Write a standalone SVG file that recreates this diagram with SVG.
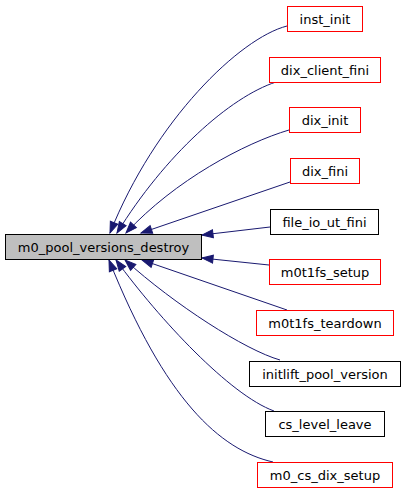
<svg xmlns="http://www.w3.org/2000/svg" width="405" height="493" viewBox="0 0 405 493">
<style>
.n rect{fill:#fff;stroke-width:1}
.red rect{stroke:#ff0000}
.blk rect{stroke:#000}
.main rect{fill:#bfbfbf;stroke:#000}
text{font-family:"DejaVu Sans","Liberation Sans",sans-serif;font-size:13px;fill:#000;text-anchor:middle}
.e path{fill:none;stroke:#191970;stroke-width:1;marker-end:url(#ah)}
</style>
<defs>
<marker id="ah" markerWidth="11" markerHeight="8" refX="11" refY="4" orient="auto" markerUnits="userSpaceOnUse" overflow="visible">
<path d="M0,0 L11,4 L0,8 z" fill="#191970" stroke="#191970" stroke-width="1"/>
</marker>
</defs>
<rect width="405" height="493" fill="#fff"/>
<g class="e" id="edges">
<path d="M287,26 C240,38 155,120 110,233"/>
<path d="M276,82 C230,97 165,155 117,233"/>
<path d="M289,130 C245,143 175,180 126,233"/>
<path d="M290,182 L141,233"/>
<path d="M270,227 L202,235"/>
<path d="M269,265 L202,258"/>
<path d="M287,310 L142,260"/>
<path d="M280,360 C245,350 175,305 125,260"/>
<path d="M274,411 C230,395 160,320 116,260"/>
<path d="M273,462 C220,450 165,400 109,260"/>
</g>
<g id="main" class="n main"><rect x="5.5" y="234.5" width="196" height="25"/><text x="103.5" y="251.5">m0_pool_versions_destroy</text></g>
<g id="inst_init" class="n red"><rect x="287.5" y="6.5" width="75" height="25"/><text x="325" y="23.5">inst_init</text></g>
<g id="dix_client_fini" class="n red"><rect x="269.5" y="57.5" width="111" height="25"/><text x="325" y="74.5">dix_client_fini</text></g>
<g id="dix_init" class="n red"><rect x="289.5" y="107.5" width="71" height="25"/><text x="325" y="124.5">dix_init</text></g>
<g id="dix_fini" class="n red"><rect x="290.5" y="158.5" width="69" height="25"/><text x="325" y="175.5">dix_fini</text></g>
<g id="file_io_ut_fini" class="n blk"><rect x="270.5" y="209.5" width="108" height="25"/><text x="324.5" y="226.5">file_io_ut_fini</text></g>
<g id="m0t1fs_setup" class="n red"><rect x="269.5" y="259.5" width="111" height="25"/><text x="325" y="276.5">m0t1fs_setup</text></g>
<g id="m0t1fs_teardown" class="n red"><rect x="256.5" y="310.5" width="137" height="25"/><text x="325" y="327.5">m0t1fs_teardown</text></g>
<g id="initlift_pool_version" class="n blk"><rect x="249.5" y="361.5" width="151" height="25"/><text x="325" y="378.5">initlift_pool_version</text></g>
<g id="cs_level_leave" class="n blk"><rect x="265.5" y="411.5" width="119" height="25"/><text x="325" y="428.5">cs_level_leave</text></g>
<g id="m0_cs_dix_setup" class="n red"><rect x="257.5" y="462.5" width="135" height="25"/><text x="325" y="479.5">m0_cs_dix_setup</text></g>
</svg>
